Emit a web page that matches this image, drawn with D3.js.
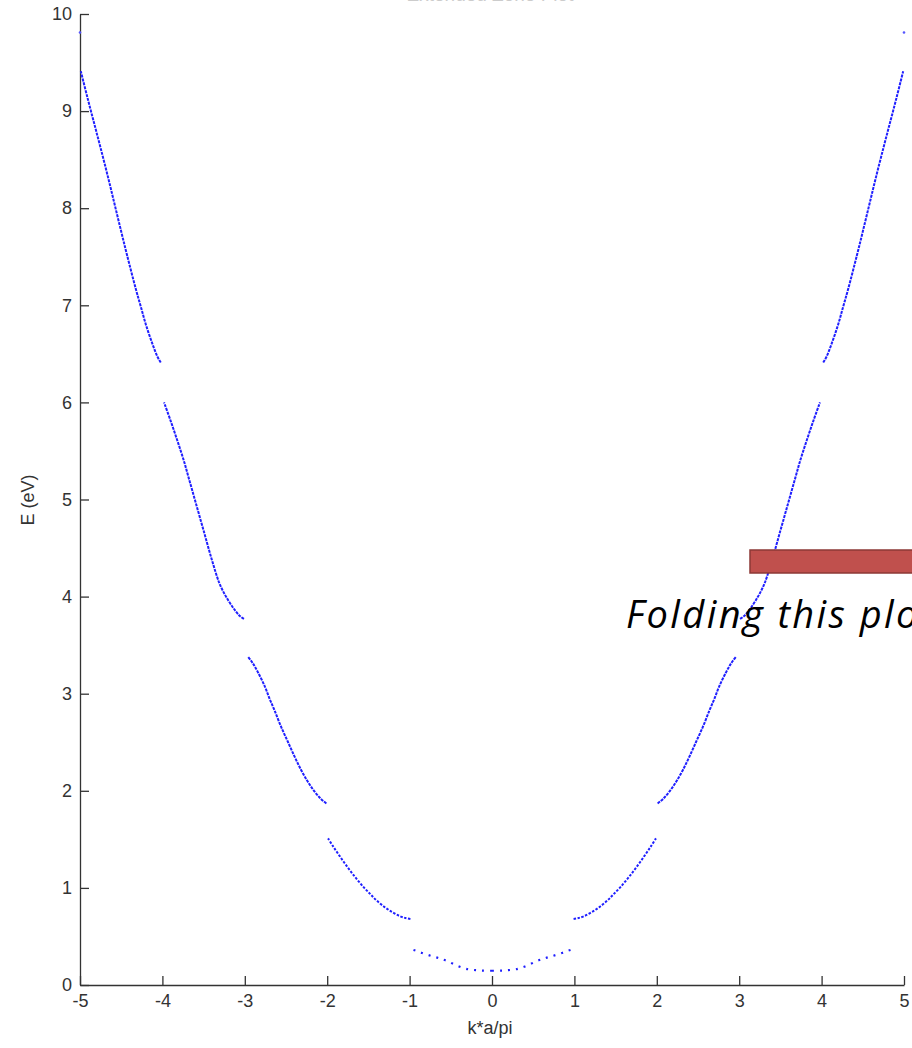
<!DOCTYPE html>
<html>
<head>
<meta charset="utf-8">
<script src="https://cdn.jsdelivr.net/npm/d3@7"></script>
<style>
  body { margin: 0; background: #fff; }
  svg { display: block; }
  .axis text { font-family: "Liberation Sans", Arial, sans-serif; font-size: 18px; fill: #333; }
  .axis path, .axis line { stroke: #333; stroke-width: 1.3; }
</style>
</head>
<body>
<div id="chart"></div>
<script>
// Band values (right half, k >= 0).
// The plot is symmetric in k, so each band is drawn for +k and -k.
const band1K = [0, 0.12, 0.2, 0.29, 0.4, 0.54, 0.64, 0.74, 0.85, 0.93, 0.98];
const band1E = [0.147, 0.148, 0.153, 0.162, 0.19, 0.245, 0.275, 0.30, 0.33, 0.355, 0.368];

const band2K = [0.99, 1.05, 1.12, 1.22, 1.3, 1.4, 1.47, 1.55, 1.65, 1.75, 1.85, 1.93, 1.99];
const band2E = [0.68, 0.69, 0.71, 0.756, 0.80, 0.87, 0.93, 1.0, 1.10, 1.21, 1.33, 1.43, 1.51];

const band3K = [2.01, 2.08, 2.16, 2.24, 2.32, 2.4, 2.48, 2.56, 2.64, 2.7, 2.76, 2.84, 2.9, 2.96];
const band3E = [1.87, 1.92, 2.00, 2.10, 2.22, 2.36, 2.51, 2.66, 2.83, 2.95, 3.08, 3.22, 3.31, 3.38];

const band4K = [3.01, 3.06, 3.12, 3.2, 3.3, 3.4, 3.5, 3.6, 3.68, 3.74, 3.82, 3.9, 3.98];
const band4E = [3.77, 3.80, 3.86, 3.96, 4.12, 4.38, 4.68, 4.98, 5.22, 5.40, 5.61, 5.81, 6.00];

const band5K = [4.02, 4.06, 4.12, 4.2, 4.26, 4.32, 4.43, 4.5, 4.58, 4.66, 4.75, 4.83, 4.91, 4.99];
const band5E = [6.41, 6.47, 6.60, 6.80, 6.98, 7.16, 7.52, 7.76, 8.04, 8.32, 8.62, 8.88, 9.14, 9.41];

// single point of the next band at the edge
const band6K = [5.0];
const band6E = [9.81];

const xTicks = [-5, -4, -3, -2, -1, 0, 1, 2, 3, 4, 5];
const yTicks = [0, 1, 2, 3, 4, 5, 6, 7, 8, 9, 10];

const W = 912, H = 1048;

const svg = d3.select('#chart').append('svg')
  .attr('width', W)
  .attr('height', H);

const x = d3.scaleLinear().domain([-5, 5]).range([80, 904]);
const y = d3.scaleLinear().domain([0, 10]).range([985, 14]);

// title, mostly above the visible area (as in the cropped original)
svg.append('text')
  .attr('x', 490)
  .attr('y', 1)
  .attr('text-anchor', 'middle')
  .style('font-family', '"Liberation Sans", Arial, sans-serif')
  .style('font-size', '19px')
  .style('fill', '#ccc')
  .text('Extended Zone Plot');

// axes, MATLAB style with inward ticks
svg.append('g')
  .attr('class', 'axis axis-x')
  .attr('transform', 'translate(0,' + y(0) + ')')
  .call(d3.axisBottom(x).tickValues(xTicks).tickFormat(d => String(d))
    .tickSize(-9).tickSizeOuter(0).tickPadding(9));

svg.append('g')
  .attr('class', 'axis axis-y')
  .attr('transform', 'translate(' + x(-5) + ',0)')
  .call(d3.axisLeft(y).tickValues(yTicks).tickFormat(d => String(d))
    .tickSize(-9).tickSizeOuter(0).tickPadding(8));

svg.append('text')
  .attr('x', 490)
  .attr('y', 1034)
  .attr('text-anchor', 'middle')
  .style('font-family', '"Liberation Sans", Arial, sans-serif')
  .style('font-size', '18px')
  .style('fill', '#333')
  .text('k*a/pi');

svg.append('text')
  .attr('transform', 'translate(34,500) rotate(-90)')
  .attr('text-anchor', 'middle')
  .style('font-family', '"Liberation Sans", Arial, sans-serif')
  .style('font-size', '18px')
  .style('fill', '#333')
  .text('E (eV)');

// bands
const bands = [
  {k: band1K, e: band1E, dash: '2,6', w: 2.2},
  {k: band2K, e: band2E, dash: '2.5,1.5', w: 2},
  {k: band3K, e: band3E, dash: '3,1', w: 2},
  {k: band4K, e: band4E, dash: '3,1', w: 2},
  {k: band5K, e: band5E, dash: '3,1', w: 2}
];

const line = d3.line()
  .x(d => x(d[0]))
  .y(d => y(d[1]))
  .curve(d3.curveCatmullRom);

bands.forEach(b => {
  [1, -1].forEach(sign => {
    const pts = b.k.map((k, i) => [sign * k, b.e[i]]);
    svg.append('path')
      .datum(pts)
      .attr('d', line)
      .attr('fill', 'none')
      .attr('stroke', '#1f1fff')
      .attr('stroke-width', b.w)
      .attr('stroke-dasharray', b.dash);
  });
});

[1, -1].forEach(sign => {
  svg.selectAll(null)
    .data(band6K.map((k, i) => [sign * k, band6E[i]]))
    .enter().append('circle')
    .attr('cx', d => x(d[0]))
    .attr('cy', d => y(d[1]))
    .attr('r', 1.3)
    .attr('fill', '#5555ff');
});

// overlay from the slide: red block arrow and caption
svg.append('rect')
  .attr('x', 750)
  .attr('y', 550)
  .attr('width', 190)
  .attr('height', 23)
  .attr('fill', '#c0504d')
  .attr('stroke', '#8c3836')
  .attr('stroke-width', 1.5);

svg.append('text')
  .attr('x', 626)
  .attr('y', 628)
  .style('font-family', '"Open Sans", Lato, sans-serif')
  .style('font-style', 'italic')
  .style('font-size', '38px')
  .style('letter-spacing', '2.4px')
  .style('fill', '#000')
  .text('Folding this plot into the first zone');
</script>
</body>
</html>
